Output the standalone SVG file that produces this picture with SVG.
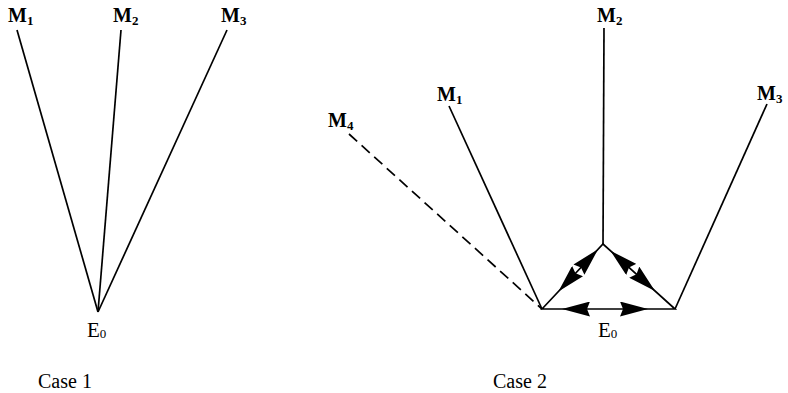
<svg xmlns="http://www.w3.org/2000/svg" width="788" height="393" viewBox="0 0 788 393">
<style>
.ln{stroke:#000;stroke-width:1.7;fill:none}
.dash{stroke-dasharray:11 6}
.ar{stroke:none;fill:none;marker-end:url(#ah)}
.m{font-family:"Liberation Serif",serif;font-size:20px;font-weight:bold;fill:#000}
.e{font-family:"Liberation Serif",serif;font-size:21px;fill:#000}
.sub{font-size:13px}
.cap{font-family:"Liberation Serif",serif;font-size:20px;fill:#000}
</style>
<defs>
<marker id="ah" markerUnits="userSpaceOnUse" viewBox="0 0 28 15" markerWidth="28" markerHeight="15" refX="28" refY="7.5" orient="auto">
<path d="M0,0 L28,7.5 L0,15 L3,7.5 Z" fill="#000"/>
</marker>
</defs>
<rect width="788" height="393" fill="#fff"/>
<g id="connectors">
<line class="ln" x1="17" y1="30" x2="98" y2="312"/>
<line class="ln" x1="121" y1="30" x2="98" y2="312"/>
<line class="ln" x1="227" y1="30" x2="98" y2="312"/>
<line class="ln" x1="604" y1="28" x2="603" y2="244"/>
<line class="ln" x1="449" y1="106" x2="542" y2="309"/>
<line class="ln" x1="767" y1="104" x2="675" y2="309"/>
<line class="ln dash" x1="349" y1="134" x2="542" y2="309"/>
<path class="ln" d="M542,309 L603,244 L675,309 Z"/>
<path class="ar" d="M590,309 L562,309"/>
<path class="ar" d="M617,309 L648,309"/>
<path class="ar" d="M576.2,272.5 L558.4,291.5"/>
<path class="ar" d="M581,267.4 L598.1,249.2"/>
<path class="ar" d="M630.5,268.8 L610.4,250.7"/>
<path class="ar" d="M634.9,272.8 L655,291"/>
</g>
<g id="c1-M1"><text class="m" x="8" y="22">M<tspan class="sub" dy="3">1</tspan></text></g>
<g id="c1-M2"><text class="m" x="113" y="22">M<tspan class="sub" dy="3">2</tspan></text></g>
<g id="c1-M3"><text class="m" x="221" y="22">M<tspan class="sub" dy="3">3</tspan></text></g>
<g id="c1-E0"><text class="e" x="87" y="337">E<tspan class="sub" dy="1">0</tspan></text></g>
<g id="c2-M1"><text class="m" x="437" y="101">M<tspan class="sub" dy="3">1</tspan></text></g>
<g id="c2-M2"><text class="m" x="597" y="22">M<tspan class="sub" dy="3">2</tspan></text></g>
<g id="c2-M3"><text class="m" x="757" y="100">M<tspan class="sub" dy="3">3</tspan></text></g>
<g id="c2-M4"><text class="m" x="328" y="127">M<tspan class="sub" dy="3">4</tspan></text></g>
<g id="c2-E0"><text class="e" x="598" y="337">E<tspan class="sub" dy="1">0</tspan></text></g>
<g id="case1"><text class="cap" x="38" y="388">Case 1</text></g>
<g id="case2"><text class="cap" x="493" y="388">Case 2</text></g>
</svg>
